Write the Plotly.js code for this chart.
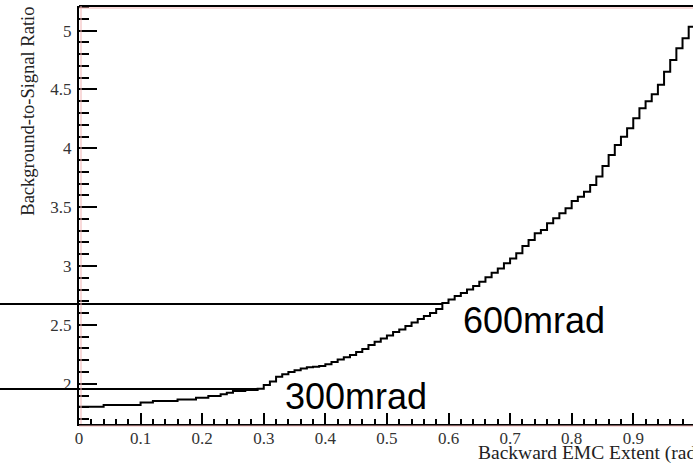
<!DOCTYPE html>
<html>
<head>
<meta charset="utf-8">
<script src="https://cdn.plot.ly/plotly-3.0.1.min.js"></script>
<style>html,body{margin:0;padding:0;background:#fff;}#chart{width:693px;height:468px;}</style>
</head>
<body>
<div id="chart"></div>
<script>
// Histogram bin edges (rad)
const binEdges = [0.00,0.01,0.02,0.03,0.04,0.05,0.06,0.07,0.08,0.09,
  0.10,0.11,0.12,0.13,0.14,0.15,0.16,0.17,0.18,0.19,
  0.20,0.21,0.22,0.23,0.24,0.25,0.26,0.27,0.28,0.29,
  0.30,0.31,0.32,0.33,0.34,0.35,0.36,0.37,0.38,0.39,
  0.40,0.41,0.42,0.43,0.44,0.45,0.46,0.47,0.48,0.49,
  0.50,0.51,0.52,0.53,0.54,0.55,0.56,0.57,0.58,0.59,
  0.60,0.61,0.62,0.63,0.64,0.65,0.66,0.67,0.68,0.69,
  0.70,0.71,0.72,0.73,0.74,0.75,0.76,0.77,0.78,0.79,
  0.80,0.81,0.82,0.83,0.84,0.85,0.86,0.87,0.88,0.89,
  0.90,0.91,0.92,0.93,0.94,0.95,0.96,0.97,0.98,0.99,1.00];
// Background-to-signal ratio per bin
const ratio = [1.805,1.805,1.805,1.805,1.82,1.82,1.82,1.82,1.82,1.82,
  1.84,1.84,1.853,1.853,1.853,1.853,1.867,1.867,1.867,1.881,
  1.881,1.896,1.896,1.91,1.924,1.938,1.938,1.946,1.946,1.958,
  1.99,2.02,2.06,2.08,2.10,2.115,2.13,2.14,2.145,2.15,
  2.165,2.185,2.205,2.225,2.245,2.27,2.295,2.33,2.357,2.385,
  2.41,2.44,2.46,2.49,2.52,2.55,2.575,2.60,2.635,2.685,
  2.715,2.745,2.77,2.80,2.83,2.867,2.904,2.943,2.98,3.023,
  3.065,3.108,3.17,3.221,3.278,3.306,3.363,3.405,3.448,3.49,
  3.552,3.589,3.631,3.688,3.76,3.85,3.943,4.028,4.099,4.17,
  4.255,4.34,4.40,4.46,4.54,4.65,4.75,4.85,4.934,5.033];
// Reference cut lines
const refLevels = [2.677, 1.955];
const refEnds = [0.59, 0.29];
const refLabels = ['600mrad', '300mrad'];
const refLabelX = [0.621, 0.331];
const refLabelY = [2.537, 1.89];

const xRange = [0, 0.997];
const yRange = [1.658, 5.209];

const yStep = ratio.concat([ratio[ratio.length - 1]]);

const trace = {
  x: binEdges, y: yStep, type: 'scatter', mode: 'lines',
  line: {shape: 'hv', color: '#000', width: 2},
  hoverinfo: 'skip', showlegend: false
};

const yPaper = v => (v - yRange[0]) / (yRange[1] - yRange[0]);
const xPaper = v => (v - xRange[0]) / (xRange[1] - xRange[0]);

const shapes = [];
refLevels.forEach((lv, i) => {
  shapes.push({type: 'line', xref: 'paper', yref: 'paper',
    x0: -0.2, x1: xPaper(refEnds[i]), y0: yPaper(lv), y1: yPaper(lv),
    line: {color: '#000', width: 2}, layer: 'above'});
});
// frame top
shapes.push({type: 'line', xref: 'paper', yref: 'paper', x0: 0, x1: 1, y0: 1, y1: 1,
  line: {color: '#000', width: 2}});
shapes.push({type: 'line', xref: 'paper', yref: 'paper', ysizemode: 'pixel', yanchor: 1,
  x0: 0, x1: 1, y0: -2, y1: -2, line: {color: '#f2b5b5', width: 1}});
shapes.push({type: 'line', xref: 'paper', yref: 'paper', xsizemode: 'pixel', xanchor: 0,
  x0: 2, x1: 2, y0: 0, y1: 1, line: {color: '#f2b5b5', width: 1}});
shapes.push({type: 'line', xref: 'paper', yref: 'paper', ysizemode: 'pixel', yanchor: 0,
  x0: 0, x1: 1, y0: -2, y1: -2, line: {color: '#f2b5b5', width: 1}});

const annotations = refLabels.map((t, i) => ({
  text: t, xref: 'x', yref: 'y', x: refLabelX[i], y: refLabelY[i],
  xanchor: 'left', yanchor: 'middle', showarrow: false,
  font: {family: 'Liberation Sans, Arial, sans-serif', size: 36, color: '#000'}
}));
annotations.push({
  text: 'Background-to-Signal Ratio', xref: 'paper', yref: 'paper',
  x: -0.083, y: 1.002, xanchor: 'center', yanchor: 'top', textangle: -90, showarrow: false,
  font: {family: 'Liberation Serif, Times New Roman, serif', size: 18.5, color: '#222'}
});
annotations.push({
  text: 'Backward EMC Extent (rad)', xref: 'paper', yref: 'paper',
  x: 0.646, y: -0.07, xanchor: 'left', yanchor: 'middle', showarrow: false,
  font: {family: 'Liberation Serif, Times New Roman, serif', size: 19.5, color: '#222'}
});

const tickFont = {family: 'Liberation Serif, Times New Roman, serif', size: 17, color: '#333'};

const layout = {
  width: 693, height: 468,
  margin: {l: 79, r: 0, t: 6, b: 44, pad: 0},
  paper_bgcolor: '#fff', plot_bgcolor: '#fff',
  showlegend: false,
  xaxis: {
    range: xRange, showgrid: false, zeroline: false,
    showline: true, linecolor: '#000', linewidth: 2,
    ticks: 'inside', ticklen: 11, tickwidth: 2, tickcolor: '#000',
    dtick: 0.1, tick0: 0, tickfont: tickFont, ticklabelstandoff: -2,
    minor: {dtick: 0.02, ticks: 'inside', ticklen: 5, tickwidth: 2, tickcolor: '#000', showgrid: false}
  },
  yaxis: {
    range: yRange, showgrid: false, zeroline: false,
    showline: true, linecolor: '#000', linewidth: 2,
    ticks: 'inside', ticklen: 18, tickwidth: 2, tickcolor: '#000',
    dtick: 0.5, tick0: 0, tickfont: tickFont, ticklabelstandoff: 2,
    minor: {dtick: 0.1, ticks: 'inside', ticklen: 10, tickwidth: 2, tickcolor: '#000', showgrid: false}
  },
  shapes: shapes,
  annotations: annotations
};

Plotly.newPlot('chart', [trace], layout, {staticPlot: true, displayModeBar: false});
</script>
</body>
</html>
